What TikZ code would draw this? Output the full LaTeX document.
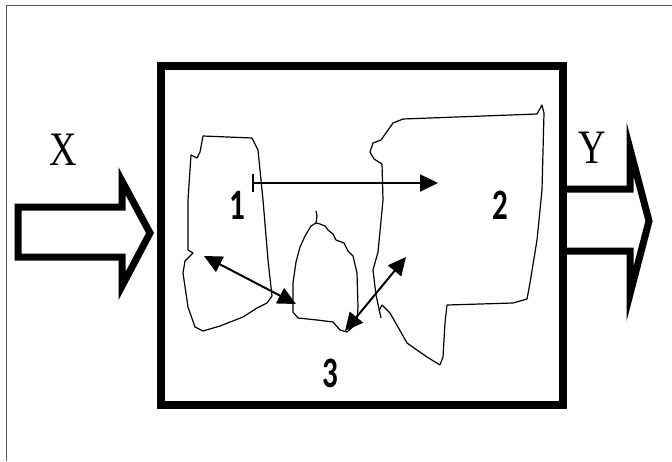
\documentclass[tikz,border=0pt]{standalone}
\usepackage{fontspec}
\setmainfont{Liberation Serif}
\newfontfamily\digitfont{Carlito}
\usetikzlibrary{arrows.meta}
\begin{document}
\begin{tikzpicture}[x=1pt,y=-1pt,
  bigarrow/.style={line width=7pt,miter limit=10,line join=miter},
  blob/.style={line width=1.2pt,line join=round},
  link/.style={line width=2pt,-{Triangle[length=18pt,width=17pt]}},
  dlink/.style={line width=2pt,{Triangle[length=18pt,width=17pt]}-{Triangle[length=18pt,width=17pt]}},
  serlabel/.style={inner sep=0pt,font=\fontsize{40}{40}\selectfont},
  numlabel/.style={inner sep=0pt,font=\digitfont\bfseries\fontsize{31}{31}\selectfont}]
\useasboundingbox (0,0) rectangle (672,461);
\fill[white] (0,0) rectangle (672,461);
% outer frame
\draw[gray!70!black,line width=1pt] (6,461) -- (6,5) -- (672,5);
% main box
\node[draw,line width=8pt,minimum width=402pt,minimum height=339pt,inner sep=0pt,anchor=north west] (box) at (157,62) {};
% input arrow
\draw[bigarrow] (18,207) -- (122,207) -- (122,181) -- (150,233) -- (122,286) -- (122,257) -- (18,257) -- cycle;
% output arrow
\draw[bigarrow] (560,189) -- (630,189) -- (630,149) -- (649,221) -- (630,294) -- (630,251) -- (560,251);
% labels X Y
\node[serlabel] (X) at (63,150) {\scalebox{0.95}[1.2]{X}};
\node[serlabel] (Y) at (592,148) {\scalebox{0.95}[1.2]{Y}};
% blob 1
\draw[blob] (203,136) -- (252,138) -- (258,150) -- (263,200) -- (268,260) -- (272,296) -- (267,303) -- (257,308) -- (243,317) -- (220,326) -- (203,331) -- (195,327) -- (188,307) -- (183,273) -- (185,261) -- (193,253) -- (188,250) -- (188,200) -- (191,155) -- (197,158) -- (200,152) -- cycle;
% blob 3
\draw[blob] (316,223) -- (311,226) -- (305,236) -- (300,247) -- (296,262) -- (293,283) -- (293,312) -- (298,318) -- (317,320) -- (333,322) -- (340,330) -- (347,332) -- (357,323) -- (358,307) -- (357,273) -- (353,256) -- (348,251) -- (344,243) -- (336,240) -- (333,234) -- (328,230) -- (325,226) -- (320,224) -- cycle;
\draw[blob] (316,223) -- (317,216) -- (316,211);
% blob 2
\draw[blob] (440,365) -- (443,357) -- (445,323) -- (447,305) -- (513,303) -- (527,299) -- (530,283) -- (537,240) -- (542,190) -- (544,113) -- (542,105) -- (537,114) -- (403,119) -- (393,123) -- (381,140) -- (373,143) -- (370,152) -- (374,159) -- (382,164) -- (383,200) -- (378,252) -- (373,270) -- (376,295) -- (381,318);
\draw[blob] (440,365) -- (427,357) -- (407,343) -- (398,327) -- (390,313) -- (382,305) -- (379,311);
% numbers
\node[numlabel] (n1) at (237,205) {\scalebox{1}[1.4]{1}};
\node[numlabel] (n2) at (500,205) {\scalebox{1}[1.4]{2}};
\node[numlabel] (n3) at (330,373) {\scalebox{1}[1.4]{3}};
% arrows
\coordinate (a1) at (253,183);
\coordinate (b1) at (438,183);
\draw[line width=2pt] (253,174) -- (253,192);
\draw[link] (a1) -- (b1);
\coordinate (a2) at (204,256);
\coordinate (b2) at (296,304);
\draw[dlink] (a2) -- (b2);
\coordinate (a3) at (345,331);
\coordinate (b3) at (406,257);
\draw[dlink] (a3) -- (b3);
\end{tikzpicture}
\end{document}
